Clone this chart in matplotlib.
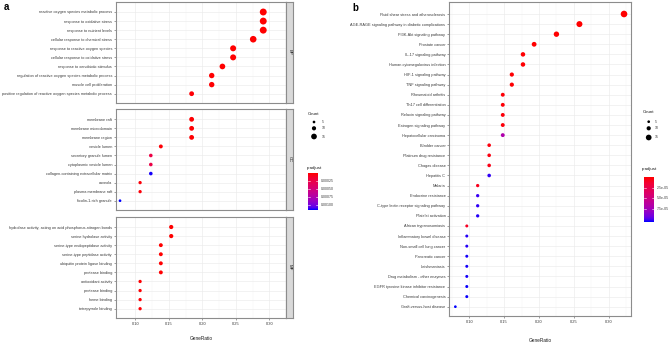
import numpy as np
import matplotlib
matplotlib.use('Agg')
import matplotlib.pyplot as plt
from matplotlib.colors import LinearSegmentedColormap

plt.rcParams['font.family'] = ['Liberation Sans', 'DejaVu Sans']

W, H = 669, 343

# ---------------- panel a: GO enrichment ----------------
bp_terms = ['reactive oxygen species metabolic process', 'response to oxidative stress',
            'response to nutrient levels', 'cellular response to chemical stress',
            'response to reactive oxygen species', 'cellular response to oxidative stress',
            'response to xenobiotic stimulus', 'regulation of reactive oxygen species metabolic process',
            'muscle cell proliferation', 'positive regulation of reactive oxygen species metabolic process']
bp_ratio = [0.291, 0.291, 0.291, 0.276, 0.246, 0.246, 0.230, 0.214, 0.214, 0.184]
bp_count = [19, 19, 19, 18, 16, 16, 15, 14, 14, 12]
bp_padj = [1e-6, 1e-6, 2e-6, 2e-6, 3e-6, 3e-6, 5e-6, 8e-6, 1e-5, 2e-5]

cc_terms = ['membrane raft', 'membrane microdomain', 'membrane region', 'vesicle lumen',
            'secretory granule lumen', 'cytoplasmic vesicle lumen',
            'collagen-containing extracellular matrix', 'caveola', 'plasma membrane raft',
            'ficolin-1-rich granule']
cc_ratio = [0.184, 0.184, 0.184, 0.138, 0.123, 0.123, 0.123, 0.107, 0.107, 0.077]
cc_count = [12, 12, 12, 9, 8, 8, 8, 7, 7, 5]
cc_padj = [1e-5, 1e-5, 1.2e-5, 2e-5, 2.3e-4, 2.4e-4, 1.13e-3, 3e-5, 3e-5, 1.15e-3]

mf_terms = ['hydrolase activity, acting on acid phosphorus-nitrogen bonds', 'serine hydrolase activity',
            'serine-type endopeptidase activity', 'serine-type peptidase activity',
            'ubiquitin protein ligase binding', 'protease binding', 'antioxidant activity',
            'protease binding', 'heme binding', 'tetrapyrrole binding']
mf_ratio = [0.1535, 0.1535, 0.138, 0.138, 0.138, 0.138, 0.107, 0.107, 0.107, 0.107]
mf_count = [10, 10, 9, 9, 9, 9, 7, 7, 7, 7]
mf_padj = [2e-6, 2e-6, 4e-6, 4e-6, 6e-6, 8e-6, 1e-5, 1e-5, 1.5e-5, 1.5e-5]

a_xticks = [0.10, 0.15, 0.20, 0.25, 0.30]
a_cbar_ticks = [0.00025, 0.00050, 0.00075, 0.00100]
a_cbar_labels = ['0.00025', '0.00050', '0.00075', '0.00100']

# ---------------- panel b: KEGG enrichment ----------------
kegg_terms = ['Fluid shear stress and atherosclerosis', 'AGE-RAGE signaling pathway in diabetic complications',
              'PI3K-Akt signaling pathway', 'Prostate cancer', 'IL-17 signaling pathway',
              'Human cytomegalovirus infection', 'HIF-1 signaling pathway', 'TNF signaling pathway',
              'Rheumatoid arthritis', 'Th17 cell differentiation', 'Relaxin signaling pathway',
              'Estrogen signaling pathway', 'Hepatocellular carcinoma', 'Bladder cancer',
              'Platinum drug resistance', 'Chagas disease', 'Hepatitis C', 'Malaria',
              'Endocrine resistance', 'C-type lectin receptor signaling pathway', 'Platelet activation',
              'African trypanosomiasis', 'Inflammatory bowel disease', 'Non-small cell lung cancer',
              'Pancreatic cancer', 'Leishmaniasis', 'Drug metabolism - other enzymes',
              'EGFR tyrosine kinase inhibitor resistance', 'Chemical carcinogenesis',
              'Graft-versus-host disease']
kegg_ratio = [0.322, 0.258, 0.225, 0.193, 0.177, 0.177, 0.161, 0.161, 0.148, 0.148, 0.148, 0.148,
              0.148, 0.1285, 0.1285, 0.1285, 0.1285, 0.112, 0.112, 0.112, 0.112, 0.0964, 0.0964,
              0.0964, 0.0964, 0.0964, 0.0964, 0.0964, 0.0964, 0.080]
kegg_count = [18, 16, 14, 12, 11, 11, 10, 10, 9, 9, 9, 9, 9, 8, 8, 8, 8, 7, 7, 7, 7,
              6, 6, 6, 6, 6, 6, 6, 6, 5]
kegg_padj = [1e-7, 1e-7, 2e-7, 5e-7, 8e-7, 8e-7, 1e-6, 1e-6, 2e-6, 2e-6, 3e-6, 3e-6, 7.0e-5,
             4e-6, 5e-6, 6e-6, 1.03e-4, 8e-6, 1.02e-4, 1.03e-4, 1.04e-4, 1e-5, 1.04e-4, 1.04e-4,
             1.05e-4, 1.05e-4, 1.05e-4, 1.06e-4, 1.06e-4, 1.07e-4]

b_xticks = [0.10, 0.15, 0.20, 0.25, 0.30]
b_cbar_ticks = [2.5e-5, 5.0e-5, 7.5e-5]
b_cbar_labels = ['2.5e-05', '5.0e-05', '7.5e-05']

legend_counts = [5, 10, 15]

# red -> blue gradient (interpolated in Lab like ggplot)
cmap = LinearSegmentedColormap.from_list('padj', [
    (0.0, '#FF0000'), (0.125, '#F40031'), (0.25, '#E80050'), (0.375, '#DA006C'),
    (0.5, '#CA0089'), (0.625, '#B500A5'), (0.75, '#9A00C2'), (0.875, '#7300E0'),
    (0.9375, '#5300F0'), (1.0, '#0000FF')])

GRID = '#ebebeb'
BORDER = '#8c8c8c'
TXT = '#3a3a3a'


def dot_size(count):
    d = 2.7 + 0.3 * (np.asarray(count, dtype=float) - 5)  # diameter in px
    return (d * 0.72) ** 2


fig = plt.figure(figsize=(W / 100, H / 100), dpi=100)
fig.patch.set_facecolor('white')


def px_axes(x0, y0, x1, y1):
    return fig.add_axes([x0 / W, 1 - y1 / H, (x1 - x0) / W, (y1 - y0) / H])


def dot_panel(box, rows, terms, ratio, count, padj, xlim, xticks, vmin, vmax, show_x):
    x0, y0, x1, y1 = box
    first, last = rows
    n = len(terms)
    step = (last - first) / (n - 1)
    ax = px_axes(x0, y0, x1, y1)
    y = np.arange(n)
    ax.scatter(ratio, y, s=dot_size(count), c=padj, cmap=cmap, vmin=vmin, vmax=vmax,
               linewidths=0, zorder=3)
    ax.set_xlim(*xlim)
    ax.set_ylim((n - 1) + (y1 - last) / step, -(first - y0) / step)
    ax.set_yticks(y)
    ax.set_yticklabels(terms, fontsize=2.75, color=TXT)
    ax.set_xticks(xticks)
    ax.set_xticks([t + 0.025 for t in xticks] + [xticks[0] - 0.025], minor=True)
    if show_x:
        ax.set_xticklabels(['%.2f' % t for t in xticks], fontsize=2.9, color=TXT)
    else:
        ax.set_xticklabels([])
    ax.tick_params(axis='both', which='major', length=1.6, width=0.4, color='#555555', pad=1.2)
    ax.tick_params(axis='x', which='minor', length=0)
    if not show_x:
        ax.tick_params(axis='x', which='major', length=0)
    ax.grid(True, which='major', color=GRID, lw=0.45, zorder=0)
    ax.grid(True, which='minor', axis='x', color='#f5f5f5', lw=0.3, zorder=0)
    ax.set_axisbelow(True)
    for sp in ax.spines.values():
        sp.set_color(BORDER)
        sp.set_linewidth(0.8)
    return ax


def strip(box, label):
    sx = px_axes(*box)
    sx.set_facecolor('#d9d9d9')
    sx.set_xticks([])
    sx.set_yticks([])
    for sp in sx.spines.values():
        sp.set_color(BORDER)
        sp.set_linewidth(0.8)
    sx.text(0.5, 0.5, label, rotation=-90, ha='center', va='center', fontsize=3.2,
            color='#1a1a1a', transform=sx.transAxes)


# panel a
a_vmin = min(bp_padj + cc_padj + mf_padj)
a_vmax = max(bp_padj + cc_padj + mf_padj)
a_xlim = (0.071, 0.319)
dot_panel((116, 1.5, 286, 102.5), (12, 93.7), bp_terms, bp_ratio, bp_count, bp_padj,
          a_xlim, a_xticks, a_vmin, a_vmax, False)
dot_panel((116, 109, 286, 210), (119.3, 200.7), cc_terms, cc_ratio, cc_count, cc_padj,
          a_xlim, a_xticks, a_vmin, a_vmax, False)
dot_panel((116, 217, 286, 317.7), (227, 308.7), mf_terms, mf_ratio, mf_count, mf_padj,
          a_xlim, a_xticks, a_vmin, a_vmax, True)
strip((286, 1.5, 293, 102.5), 'BP')
strip((286, 109, 293, 210), 'CC')
strip((286, 217, 293, 317.7), 'MF')

# panel b
b_vmin = min(kegg_padj)
b_vmax = max(kegg_padj)
dot_panel((449.3, 2.3, 631, 315.7), (14, 306.7), kegg_terms, kegg_ratio, kegg_count, kegg_padj,
          (0.0713, 0.332), b_xticks, b_vmin, b_vmax, True)

# overlay for legends and labels, pixel coordinates
ov = fig.add_axes([0, 0, 1, 1], facecolor='none')
ov.set_xlim(0, W)
ov.set_ylim(0, H)
ov.axis('off')


def legends(cx, count_y, dot_ys, lab_x, p_y, bar, ticks, labels, vmin, vmax):
    ov.text(cx, H - count_y, 'Count', fontsize=3.2, color='#1a1a1a', va='center', ha='left')
    dx = cx + 6
    ov.scatter([dx] * len(legend_counts), [H - v for v in dot_ys], s=dot_size(legend_counts),
               color='black', linewidths=0)
    for c, v in zip(legend_counts, dot_ys):
        ov.text(lab_x, H - v, str(c), fontsize=2.5, color=TXT, va='center', ha='left')
    ov.text(cx - 1, H - p_y, 'p.adjust', fontsize=3.2, color='#1a1a1a', va='center', ha='left')
    bx0, by0, bx1, by1 = bar
    grad = np.linspace(0, 1, 200).reshape(-1, 1)
    ov.imshow(grad, cmap=cmap, extent=(bx0, bx1, H - by1, H - by0), origin='upper',
              aspect='auto', zorder=2)
    for t, lab in zip(ticks, labels):
        yy = by0 + (t - vmin) / (vmax - vmin) * (by1 - by0)
        ov.plot([bx0, bx0 + 2], [H - yy, H - yy], color='white', lw=0.4, zorder=3)
        ov.plot([bx1 - 2, bx1], [H - yy, H - yy], color='white', lw=0.4, zorder=3)
        ov.text(bx1 + 3, H - yy, lab, fontsize=2.5, color=TXT, va='center', ha='left')
    ov.set_xlim(0, W)
    ov.set_ylim(0, H)


legends(308, 113.7, [122, 128.3, 136.5], 322, 167.7, (307.7, 173.3, 317.7, 210),
        a_cbar_ticks, a_cbar_labels, a_vmin, a_vmax)
legends(642.7, 112, [121.7, 128.3, 137.5], 655, 169.3, (643.7, 177.3, 653.7, 222.3),
        b_cbar_ticks, b_cbar_labels, b_vmin, b_vmax)

ov.text(201, H - 339, 'GeneRatio', fontsize=3.4, color='#1a1a1a', ha='center', va='center')
ov.text(540, H - 340, 'GeneRatio', fontsize=3.4, color='#1a1a1a', ha='center', va='center')
ov.text(4, H - 7, 'a', fontsize=7, fontweight='bold', ha='left', va='center')
ov.text(352, H - 8, 'b', fontsize=7, fontweight='bold', ha='left', va='center')

fig.savefig('out.png', dpi=100)
